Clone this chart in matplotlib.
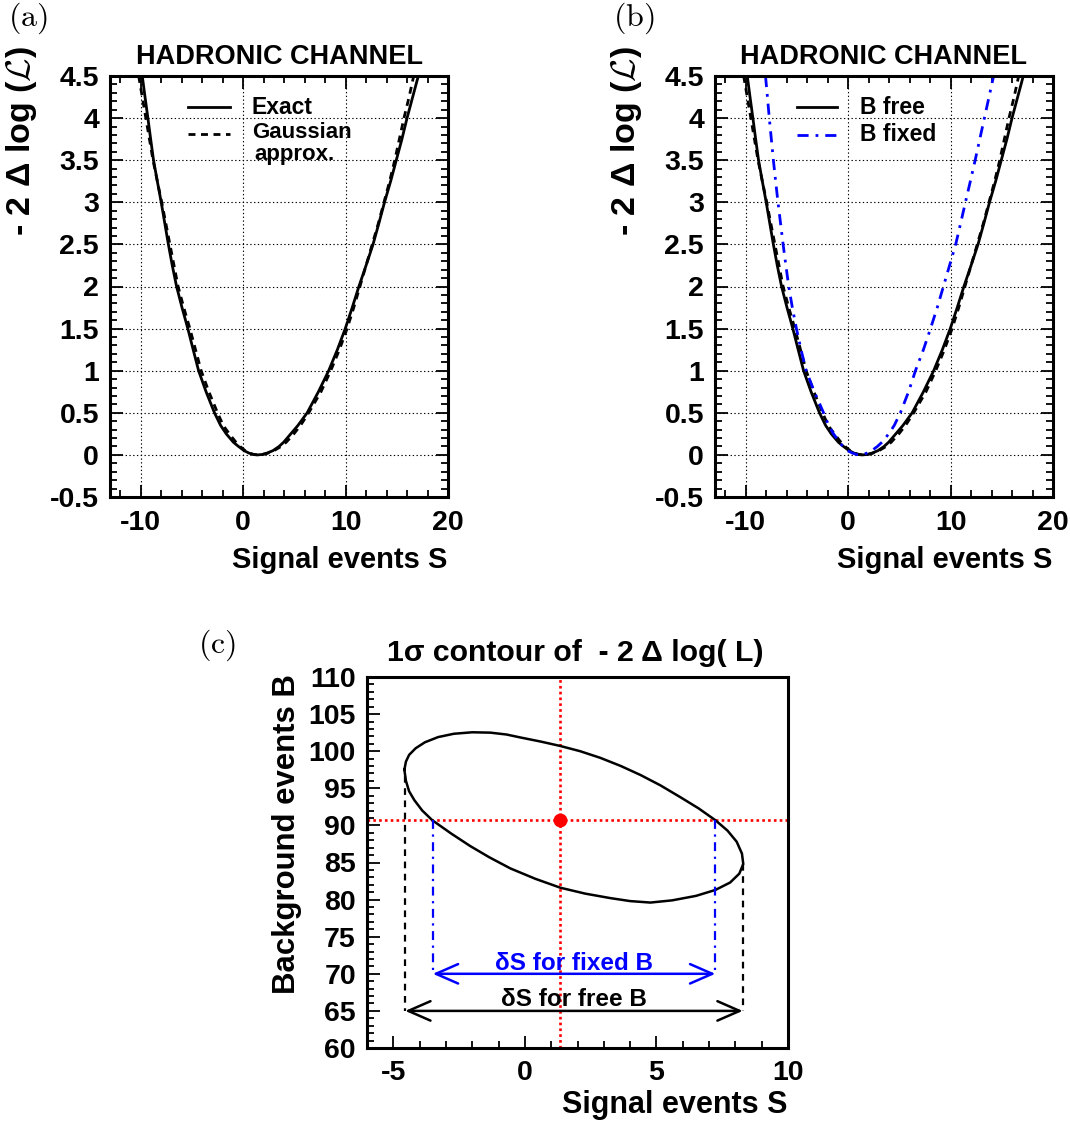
import numpy as np
import matplotlib.pyplot as plt
from matplotlib.ticker import MultipleLocator, FuncFormatter
from matplotlib.lines import Line2D

plt.rcParams['font.family'] = ['Liberation Sans', 'DejaVu Sans']
plt.rcParams['font.weight'] = 'bold'
plt.rcParams['mathtext.fontset'] = 'cm'

# -2 delta log L profiles, S at these levels (left branch, minimum, right branch)
dll_levels = [4.5, 4.25, 4.0, 3.75, 3.5, 3.25, 3.0, 2.75, 2.5, 2.25, 2.0, 1.75, 1.5, 1.25, 1.0,
              0.75, 0.5, 0.35, 0.25, 0.15, 0.1, 0.05, 0.02, 0.005, 0.0,
              0.005, 0.02, 0.05, 0.1, 0.15, 0.25, 0.35, 0.5, 0.75,
              1.0, 1.25, 1.5, 1.75, 2.0, 2.25, 2.5, 2.75, 3.0, 3.25, 3.5, 3.75, 4.0, 4.25, 4.5]
s_exact = [-9.85, -9.58, -9.3, -9.03, -8.75, -8.38, -8.0, -7.65, -7.3, -6.92, -6.5, -5.97, -5.4, -4.88, -4.35,
           -3.62, -2.8, -2.2, -1.65, -0.95, -0.45, 0.1, 0.6, 1.0, 1.4,
           1.85, 2.3, 2.9, 3.5, 3.95, 4.65, 5.35, 6.25, 7.35,
           8.35, 9.2, 9.97, 10.65, 11.3, 12.0, 12.68, 13.25, 13.8, 14.4, 14.95, 15.5, 16.0, 16.55, 17.1]
s_gauss = [-10.2, -9.85, -9.5, -9.15, -8.8, -8.38, -7.95, -7.55, -7.15, -6.75, -6.35, -5.8, -5.2, -4.65, -4.1,
           -3.35, -2.5, -1.95, -1.35, -0.7, -0.3, 0.2, 0.65, 1.05, 1.45,
           1.9, 2.4, 3.0, 3.7, 4.2, 4.95, 5.6, 6.4, 7.6,
           8.55, 9.4, 10.15, 10.8, 11.4, 12.0, 12.6, 13.2, 13.75, 14.3, 14.8, 15.25, 15.7, 16.2, 16.65]
s_fixed = [-8.07, -7.88, -7.7, -7.5, -7.3, -7.08, -6.85, -6.6, -6.35, -6.08, -5.8, -5.45, -5.05, -4.6, -4.1,
           -3.3, -2.4, -1.9, -1.43, -0.85, -0.5, -0.05, 0.45, 0.8, 1.1,
           1.45, 1.8, 2.3, 2.85, 3.3, 3.96, 4.5, 5.1, 5.9,
           6.57, 7.35, 8.04, 8.7, 9.3, 9.9, 10.5, 10.98, 11.45, 11.93, 12.4, 12.85, 13.3, 13.75, 14.2]

# 1 sigma contour in the (S, B) plane
s_cont = [-4.58, -4.52, -4.4, -4.15, -3.8, -3.3, -2.7, -2.0, -1.31, -0.7, -0.17, 0.6, 1.35, 2.1,
          2.87, 3.65, 4.39, 5.15, 5.91, 6.6, 7.24, 7.7, 8.05, 8.25, 8.3, 8.15, 7.8, 7.24, 6.5,
          5.6, 4.77, 4.0, 3.25, 2.3, 1.35, 0.4, -0.55, -1.35, -2.07, -2.8, -3.52, -3.9, -4.2,
          -4.4, -4.52, -4.58]
b_cont = [97.5, 98.6, 99.5, 100.4, 101.2, 101.9, 102.35, 102.55, 102.5, 102.25, 101.85, 101.3, 100.7, 100.0,
          99.1, 98.0, 96.8, 95.4, 93.8, 92.3, 90.7, 89.3, 87.8, 86.2, 84.8, 83.5, 82.3, 81.3, 80.5,
          79.9, 79.6, 79.8, 80.2, 80.8, 81.6, 82.8, 84.2, 85.7, 87.2, 88.9, 90.7, 92.0, 93.4,
          94.6, 96.0, 97.5]
s_best, b_best = 1.35, 90.7
s_free = [-4.55, 8.28]      # extent of contour in S
b_free_top = [96.6, 84.8]
s_fix = [-3.5, 7.24]        # contour crossing at B = b_best
b_free_arrow, b_fixed_arrow = 65, 70

W, H = 1070, 1126
fig = plt.figure(figsize=(W / 100, H / 100), dpi=100)

def box(l, t, r, b):
    return [l / W, 1 - b / H, (r - l) / W, (b - t) / H]

fmt = FuncFormatter(lambda v, p: '%g' % v)

def style(ax, all_sides=True):
    for sp in ax.spines.values():
        sp.set_linewidth(2.2)
    ax.tick_params(which='both', direction='in', top=all_sides, right=all_sides,
                   width=1.3, labelsize=20.5)
    ax.tick_params(which='major', length=9)
    ax.tick_params(which='minor', length=5)
    ax.tick_params(axis='x', pad=9)
    ax.tick_params(axis='y', pad=8)
    ax.xaxis.set_major_formatter(fmt)
    ax.yaxis.set_major_formatter(fmt)

grid_ls = (0, (1.2, 2.2))
dash_ls = (0, (2.5, 2))
dashdot_ls = (0, (4, 2.5, 1, 2.5))

for k, (left, right) in enumerate([(110, 448), (715, 1053)]):
    ax = fig.add_axes(box(left, 76, right, 497))
    style(ax)
    ax.set_xlim(-13, 20)
    ax.set_ylim(-0.5, 4.5)
    ax.xaxis.set_major_locator(MultipleLocator(10))
    ax.xaxis.set_minor_locator(MultipleLocator(2))
    ax.yaxis.set_major_locator(MultipleLocator(0.5))
    ax.yaxis.set_minor_locator(MultipleLocator(0.1))
    ax.grid(True, which='major', color='k', ls=grid_ls, lw=0.8)
    ax.plot(s_gauss, dll_levels, color='k', lw=2.0, ls=dash_ls)
    ax.plot(s_exact, dll_levels, color='k', lw=2.0)
    if k == 1:
        ax.plot(s_fixed, dll_levels, color='blue', lw=2.0, ls=dashdot_ls)

    cx = (left + right) / 2
    fig.text(cx / W, 1 - 57 / H, 'HADRONIC CHANNEL', ha='center', va='center', fontsize=19.5)
    fig.text((right - 1) / W, 1 - 560 / H, 'Signal events S', ha='right', va='center', fontsize=21)
    fig.text((left - 88) / W, 1 - 46 / H, r'- 2 Δ log ($\mathcal{L}$)', rotation=90,
             ha='center', va='top', fontsize=24.5)

    tr = ax.transAxes
    if k == 0:
        ax.add_line(Line2D([0.231, 0.355], [0.926, 0.926], color='k', lw=2.0, transform=tr))
        ax.add_line(Line2D([0.231, 0.355], [0.862, 0.862], color='k', lw=2.0, ls=dash_ls, transform=tr))
        ax.text(0.42, 0.926, 'Exact', transform=tr, va='center', fontsize=16.5)
        ax.text(0.42, 0.866, 'Gaussian', transform=tr, va='center', fontsize=16)
        ax.text(0.428, 0.814, 'approx.', transform=tr, va='center', fontsize=16)
    else:
        ax.add_line(Line2D([0.243, 0.361], [0.926, 0.926], color='k', lw=2.0, transform=tr))
        ax.add_line(Line2D([0.243, 0.361], [0.860, 0.860], color='blue', lw=2.0, ls=dashdot_ls, transform=tr))
        ax.text(0.429, 0.926, 'B free', transform=tr, va='center', fontsize=16.5)
        ax.text(0.429, 0.860, 'B fixed', transform=tr, va='center', fontsize=16.5)

fig.text(8 / W, 1 - 18 / H, r'$\mathrm{(a)}$', ha='left', va='center', fontsize=23)
fig.text(613 / W, 1 - 18 / H, r'$\mathrm{(b)}$', ha='left', va='center', fontsize=23)
fig.text(198 / W, 1 - 645 / H, r'$\mathrm{(c)}$', ha='left', va='center', fontsize=23)

# panel (c)
ax = fig.add_axes(box(367, 677, 788, 1048))
style(ax, all_sides=False)
ax.set_xlim(-6, 10)
ax.set_ylim(60, 110)
ax.xaxis.set_major_locator(MultipleLocator(5))
ax.xaxis.set_minor_locator(MultipleLocator(1))
ax.yaxis.set_major_locator(MultipleLocator(5))
ax.yaxis.set_minor_locator(MultipleLocator(1))

red_ls = (0, (1, 1.2))
ax.axvline(s_best, color='red', ls=red_ls, lw=1.9)
ax.axhline(b_best, color='red', ls=red_ls, lw=1.9)
ax.plot(s_cont, b_cont, color='k', lw=1.8)
ax.plot(s_best, b_best, 'o', color='red', ms=9)

for s, bt in zip(s_free, b_free_top):
    ax.plot([s, s], [bt, b_free_arrow], color='k', lw=1.6, ls=(0, (3, 2.5)))
for s in s_fix:
    ax.plot([s, s], [b_best, b_fixed_arrow], color='blue', lw=1.6, ls=dashdot_ls)

astyle = '<->,head_length=0.8,head_width=0.35'
ax.annotate('', xy=(s_free[0], b_free_arrow), xytext=(s_free[1], b_free_arrow),
            arrowprops=dict(arrowstyle=astyle, color='k', lw=1.8, shrinkA=0, shrinkB=0,
                            mutation_scale=20))
ax.annotate('', xy=(s_fix[0], b_fixed_arrow), xytext=(s_fix[1], b_fixed_arrow),
            arrowprops=dict(arrowstyle=astyle, color='blue', lw=1.8, shrinkA=0, shrinkB=0,
                            mutation_scale=20))
ax.text(1.85, 71.4, 'δS for fixed B', color='blue', ha='center', va='center', fontsize=17.5)
ax.text(1.85, 66.6, 'δS for free B', color='k', ha='center', va='center', fontsize=17.5)

fig.text(575 / W, 1 - 653 / H, '1σ contour of  - 2 Δ log( L)', ha='center', va='center', fontsize=21.8)
fig.text(787 / W, 1 - 1105 / H, 'Signal events S', ha='right', va='center', fontsize=22)
fig.text(287 / W, 1 - 674 / H, 'Background events B', rotation=90, ha='center', va='top', fontsize=22.4)

fig.savefig('out.png', dpi=100)
